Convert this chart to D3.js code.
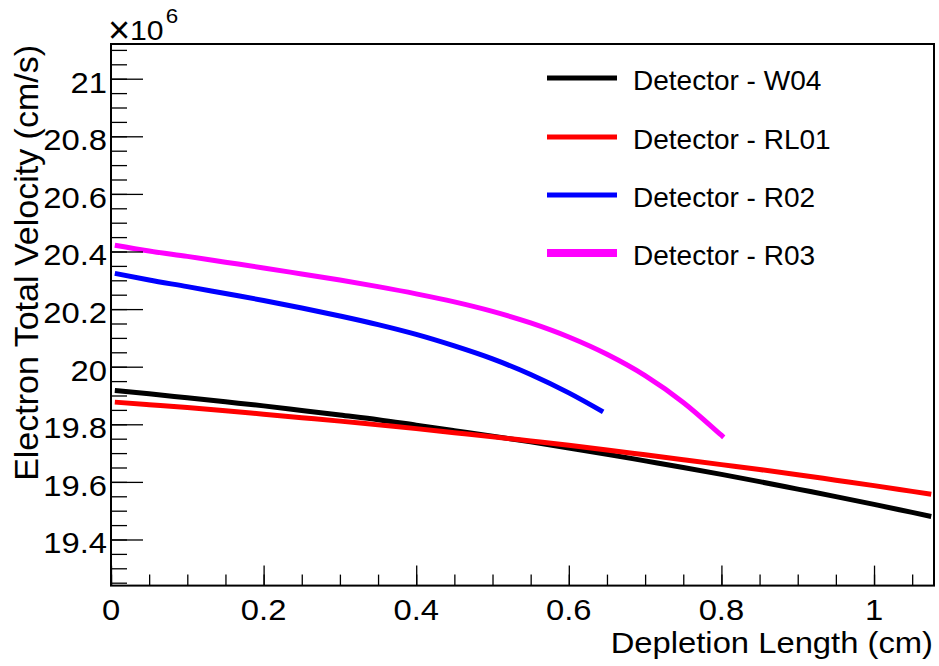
<!DOCTYPE html>
<html><head><meta charset="utf-8">
<script src="https://cdn.jsdelivr.net/npm/d3@7"></script>
<style>html,body{margin:0;padding:0;background:#fff}svg{display:block}text{font-family:"Liberation Sans",Arial,Helvetica,sans-serif;fill:#000}</style>
</head><body>
<svg id="c" width="939" height="666"></svg>
<script>
// ---- data ----
const seriesNames = ["Detector - W04", "Detector - RL01", "Detector - R02", "Detector - R03"];
const seriesColors = ["#000000", "#ff0000", "#0000ff", "#ff00ff"];
const xW04 = [0.005, 0.05, 0.1, 0.15, 0.2, 0.25, 0.3, 0.35, 0.4, 0.45, 0.5, 0.55, 0.6, 0.65, 0.7, 0.75, 0.8, 0.85, 0.9, 0.95, 1.0, 1.05, 1.075];
const vW04 = [19.917, 19.906, 19.892, 19.878, 19.864, 19.848, 19.832, 19.816, 19.797, 19.778, 19.759, 19.739, 19.718, 19.696, 19.673, 19.650, 19.626, 19.601, 19.575, 19.549, 19.522, 19.494, 19.480];
const xRL01 = [0.005, 0.05, 0.1, 0.15, 0.2, 0.25, 0.3, 0.35, 0.4, 0.45, 0.5, 0.55, 0.6, 0.65, 0.7, 0.75, 0.8, 0.85, 0.9, 0.95, 1.0, 1.05, 1.075];
const vRL01 = [19.877, 19.868, 19.858, 19.847, 19.835, 19.823, 19.811, 19.798, 19.785, 19.771, 19.757, 19.742, 19.727, 19.711, 19.694, 19.677, 19.660, 19.643, 19.625, 19.606, 19.587, 19.567, 19.557];
const xR02 = [0.005, 0.05, 0.1, 0.15, 0.2, 0.25, 0.3, 0.35, 0.4, 0.45, 0.5, 0.55, 0.6, 0.645];
const vR02 = [20.324, 20.301, 20.278, 20.254, 20.230, 20.204, 20.176, 20.146, 20.112, 20.072, 20.027, 19.973, 19.909, 19.843];
const xR03 = [0.005, 0.05, 0.1, 0.15, 0.2, 0.25, 0.3, 0.35, 0.4, 0.45, 0.5, 0.55, 0.6, 0.65, 0.7, 0.75, 0.8, 0.803];
const vR03 = [20.422, 20.402, 20.383, 20.363, 20.343, 20.322, 20.301, 20.278, 20.253, 20.225, 20.192, 20.152, 20.103, 20.043, 19.969, 19.876, 19.762, 19.755];
const xTicks = [0, 0.2, 0.4, 0.6, 0.8, 1];
const xTickLabels = ["0", "0.2", "0.4", "0.6", "0.8", "1"];
const yTicks = [19.4, 19.6, 19.8, 20, 20.2, 20.4, 20.6, 20.8, 21];
const yTickLabels = ["19.4", "19.6", "19.8", "20", "20.2", "20.4", "20.6", "20.8", "21"];
const xTitle = "Depletion Length (cm)";
const yTitle = "Electron Total Velocity (cm/s)";

const svg = d3.select("#c");
const L = 111, R = 934, T = 44, B = 585.6;
const x = d3.scaleLinear().domain([0, 1.0786]).range([L, R]);
const y = d3.scaleLinear().domain([19.2399, 21.1205]).range([B, T]);
const SX = 1.13; // horizontal stretch of axis glyphs

// curves
const series = [
  {xs: xW04, vs: vW04, w: 5},
  {xs: xRL01, vs: vRL01, w: 5},
  {xs: xR02, vs: vR02, w: 5},
  {xs: xR03, vs: vR03, w: 5}
];
const line = d3.line().x(d => x(d[0])).y(d => y(d[1])).curve(d3.curveMonotoneX);
const gLines = svg.append("g");
[0, 1, 3, 2].forEach(i => {
  const s = series[i];
  gLines.append("path").attr("d", line(s.xs.map((v, k) => [v, s.vs[k]])))
    .attr("fill", "none").attr("stroke", seriesColors[i]).attr("stroke-width", s.w);
});

// frame
svg.append("rect").attr("x", L).attr("y", T).attr("width", R - L).attr("height", B - T)
  .attr("fill", "none").attr("stroke", "#000").attr("stroke-width", 2);

// ticks
const yAxis = d3.axisRight(y).tickValues(d3.range(19.25, 21.1201, 0.05)).tickSize(16).tickFormat("");
const yMajor = d3.axisRight(y).tickValues(yTicks).tickSize(32).tickFormat("");
[yAxis, yMajor].forEach(a => {
  const g = svg.append("g").attr("transform", `translate(${L},0)`).call(a);
  g.select(".domain").remove();
  g.selectAll("line").attr("stroke", "#000").attr("stroke-width", 1.3);
});
const xAxis = d3.axisTop(x).tickValues(d3.range(0, 1.0786, 0.05)).tickSize(11).tickFormat("");
const xMajor = d3.axisTop(x).tickValues(xTicks).tickSize(20).tickFormat("");
[xAxis, xMajor].forEach(a => {
  const g = svg.append("g").attr("transform", `translate(0,${B})`).call(a);
  g.select(".domain").remove();
  g.selectAll("line").attr("stroke", "#000").attr("stroke-width", 1.3);
});

// tick labels
yTicks.forEach((t, i) => {
  svg.append("g").attr("transform", `translate(107,${y(t) + 14}) scale(${SX},1)`)
    .append("text").attr("text-anchor", "end").attr("font-size", 29).text(yTickLabels[i]);
});
xTicks.forEach((t, i) => {
  svg.append("g").attr("transform", `translate(${x(t)},${620}) scale(${SX},1)`)
    .append("text").attr("text-anchor", "middle").attr("font-size", 29).text(xTickLabels[i]);
});

// exponent
svg.append("text").attr("x", 108).attr("y", 43).attr("font-size", 38).attr("font-weight", 300).text("\u00d7");
const ex = svg.append("g").attr("transform", `translate(130,40) scale(1.12,1)`);
ex.append("text").attr("font-size", 27).text("10");
ex.append("text").attr("x", 32).attr("y", -17).attr("font-size", 20).text("6");

// axis titles
svg.append("g").attr("transform", `translate(933,653) scale(${SX},1)`)
  .append("text").attr("text-anchor", "end").attr("font-size", 29).text(xTitle);
svg.append("text").attr("transform", "translate(38,45) rotate(-90)")
  .attr("text-anchor", "end").attr("font-size", 34).text(yTitle);

// legend
const legY = [78, 137, 195, 253];
const legW = [5, 5, 5, 8];
seriesNames.forEach((n, i) => {
  svg.append("line").attr("x1", 547).attr("x2", 617).attr("y1", legY[i]).attr("y2", legY[i])
    .attr("stroke", seriesColors[i]).attr("stroke-width", legW[i]);
  svg.append("text").attr("x", 633).attr("y", legY[i] + 11.5).attr("font-size", 28).text(n);
});
</script>
</body></html>
